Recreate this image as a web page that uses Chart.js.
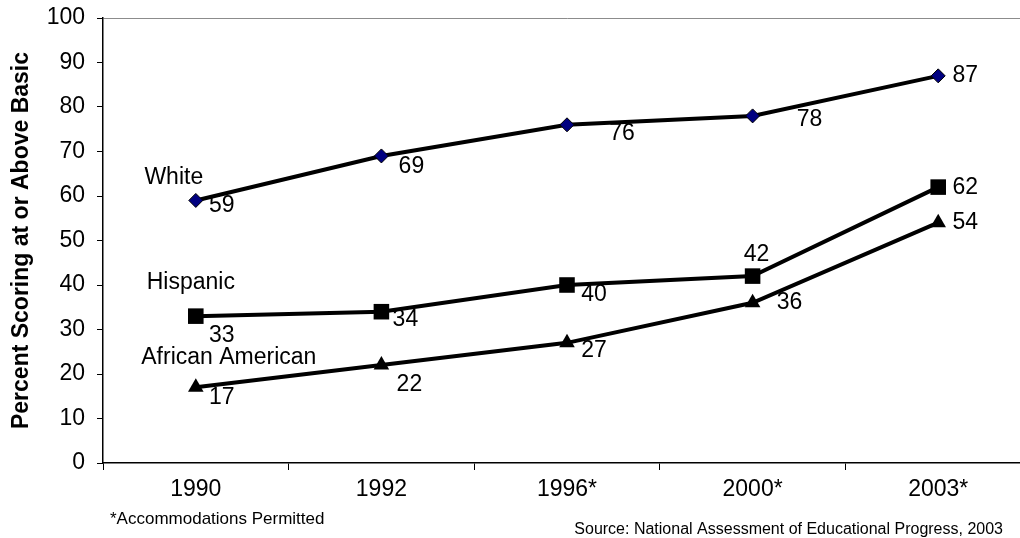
<!DOCTYPE html>
<html>
<head>
<meta charset="utf-8">
<script src="https://cdn.jsdelivr.net/npm/chart.js@4/dist/chart.umd.min.js"></script>
<style>
  html, body { margin: 0; padding: 0; background: #fff; overflow: hidden; }
  #wrap { width: 1042px; height: 538px; }
</style>
</head>
<body>
<div id="wrap"><canvas id="c" width="1042" height="538"></canvas></div>
<script>
// Survey years (asterisk = accommodations permitted)
const years = ['1990', '1992', '1996*', '2000*', '2003*'];

// Percent scoring at or above Basic, by group
const white = [59, 69, 76, 78, 87];
const hispanic = [33, 34, 40, 42, 62];
const africanAmerican = [17, 22, 27, 36, 54];

// Y axis ticks
const yTicks = [0, 10, 20, 30, 40, 50, 60, 70, 80, 90, 100];

// Placement of value labels relative to each point (dx, dy in px)
const whiteLabelOffsets = [[26, 5], [30, 11], [55, 9], [57, 4], [27, 0]];
const hispanicLabelOffsets = [[26, 20], [24, 8], [27, 10], [4, -21], [27, 1]];
const aaLabelOffsets = [[26, 10], [28, 20], [27, 8], [37, 0], [27, 0]];

// Group name placed near the first point of each line
const groupNameOffsets = [[-22, -23], [-5, -33], [33, -30]];

const FONT = '"Liberation Sans", Arial, Helvetica, sans-serif';

const annotate = {
  id: 'annotate',
  afterDatasetsDraw(chart) {
    const ctx = chart.ctx;
    ctx.save();
    ctx.fillStyle = '#000';
    ctx.textAlign = 'center';
    ctx.textBaseline = 'middle';
    ctx.font = '23px ' + FONT;
    chart.data.datasets.forEach((ds, i) => {
      const meta = chart.getDatasetMeta(i);
      meta.data.forEach((pt, j) => {
        const [dx, dy] = ds.labelOffsets[j];
        ctx.fillText(String(ds.data[j]), pt.x + dx, pt.y + dy);
      });
      const first = meta.data[0];
      const [nx, ny] = groupNameOffsets[i];
      ctx.fillText(ds.label, first.x + nx, first.y + ny);
    });
    // Footnotes
    ctx.textAlign = 'left';
    ctx.font = '17px ' + FONT;
    ctx.fillText('*Accommodations Permitted', 110, 519);
    ctx.textAlign = 'right';
    ctx.font = '16px ' + FONT;
    ctx.fillText('Source: National Assessment of Educational Progress, 2003', 1003, 530);
    ctx.restore();
  }
};

new Chart(document.getElementById('c'), {
  type: 'line',
  data: {
    labels: years,
    datasets: [
      {
        label: 'White',
        data: white,
        labelOffsets: whiteLabelOffsets,
        borderColor: '#000',
        borderWidth: 4,
        pointStyle: 'rectRot',
        pointRadius: 7,
        pointBackgroundColor: '#000080',
        pointBorderColor: '#000',
        pointBorderWidth: 1,
        tension: 0
      },
      {
        label: 'Hispanic',
        data: hispanic,
        labelOffsets: hispanicLabelOffsets,
        borderColor: '#000',
        borderWidth: 4,
        pointStyle: 'rect',
        pointRadius: 11,
        pointBackgroundColor: '#000',
        pointBorderColor: '#000',
        pointBorderWidth: 0,
        tension: 0
      },
      {
        label: 'African American',
        data: africanAmerican,
        labelOffsets: aaLabelOffsets,
        borderColor: '#000',
        borderWidth: 4,
        pointStyle: 'triangle',
        pointRadius: 9,
        pointBackgroundColor: '#000',
        pointBorderColor: '#000',
        pointBorderWidth: 0,
        tension: 0
      }
    ]
  },
  options: {
    responsive: false,
    animation: false,
    devicePixelRatio: 1,
    layout: { padding: { left: 0, top: 18, right: 7, bottom: 0 } },
    plugins: {
      legend: { display: false },
      tooltip: { enabled: false }
    },
    scales: {
      x: {
        type: 'category',
        offset: true,
        grid: {
          offset: true,
          drawOnChartArea: false,
          drawTicks: true,
          tickLength: 7,
          tickColor: '#000',
          tickWidth: 1
        },
        border: { display: true, color: '#000', width: 1.5 },
        ticks: {
          color: '#000',
          font: { family: FONT, size: 23 },
          padding: 6,
          maxRotation: 0,
          autoSkip: false
        },
        afterFit(scale) {
          scale.height = 75;
          scale.paddingLeft = 0;
          scale.paddingRight = 0;
        }
      },
      y: {
        min: 0,
        max: 100,
        afterBuildTicks(scale) {
          scale.ticks = yTicks.map(v => ({ value: v }));
        },
        grid: {
          color: (c) => (c.tick && c.tick.value === 100 ? '#8c8c8c' : 'rgba(0,0,0,0)'),
          lineWidth: 1,
          drawTicks: true,
          tickLength: 6,
          tickColor: '#000',
          tickWidth: 1
        },
        border: { display: true, color: '#000', width: 1.5 },
        ticks: {
          color: '#000',
          font: { family: FONT, size: 23 },
          padding: 12
        },
        title: {
          display: true,
          text: 'Percent Scoring at or Above Basic',
          color: '#000',
          font: { family: FONT, size: 23, weight: 'bold' },
          padding: { top: 8, bottom: 0 }
        },
        afterFit(scale) {
          scale.width = 103;
          scale.paddingTop = 0;
          scale.paddingBottom = 0;
        }
      }
    }
  },
  plugins: [annotate]
});
</script>
</body>
</html>
